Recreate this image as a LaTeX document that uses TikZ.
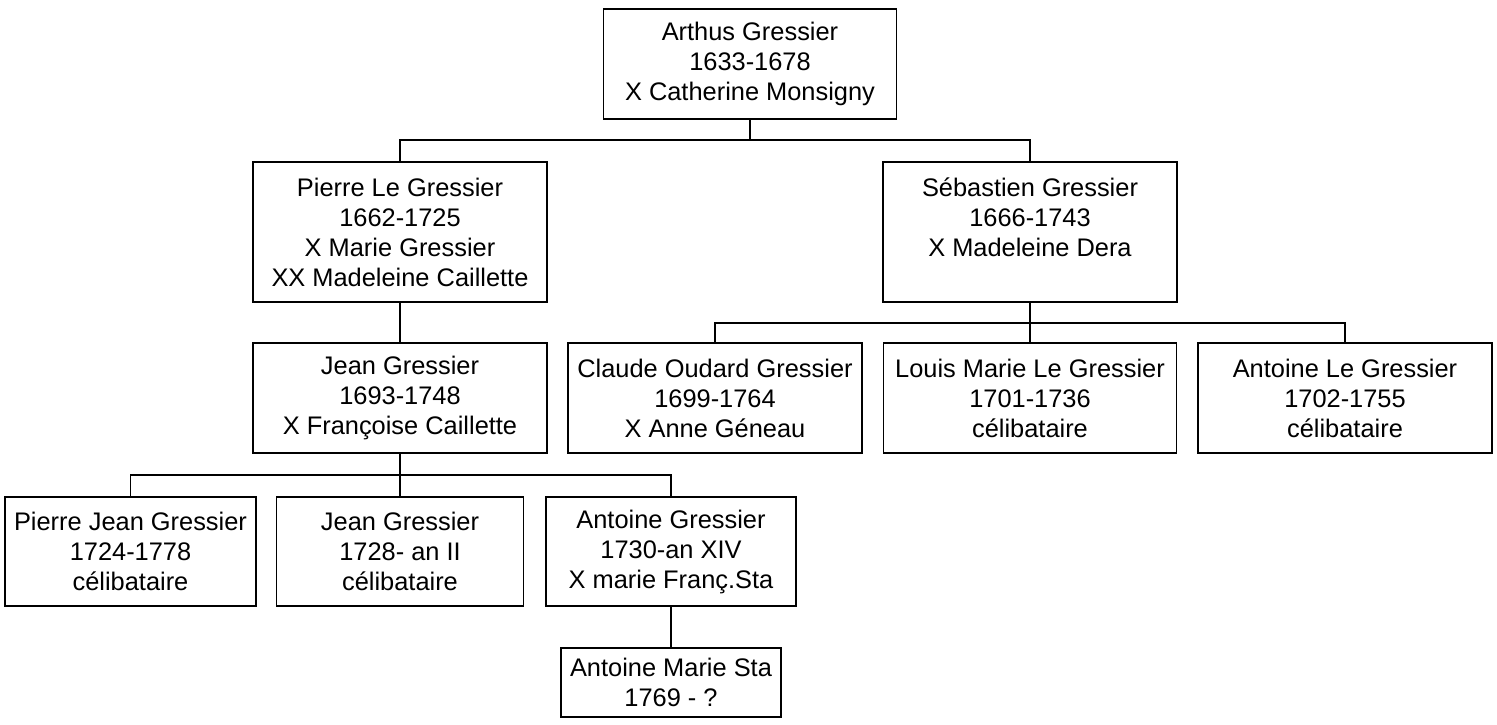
\documentclass[tikz,border=0pt]{standalone}
\usepackage{fontspec}
\setmainfont{Liberation Sans}
\begin{document}
\begin{tikzpicture}[x=1pt,y=-1pt,
  person/.style={draw=black, line width=1.9pt, rectangle, align=center, inner sep=0pt,
    font=\fontsize{25.4}{30}\selectfont},
  link/.style={draw=black, line width=1.9pt}]
\useasboundingbox (0,0) rectangle (1497,724);
% generation 1
\node[person, minimum width=293pt, minimum height=110pt] (arthus) at (750,64)
  {Arthus Gressier\\1633-1678\\X Catherine Monsigny};
% generation 2
\node[person, minimum width=294pt, minimum height=140pt] (pierre) at (400,232)
  {Pierre Le Gressier\\1662-1725\\X Marie Gressier\\XX Madeleine Caillette};
\node[person, minimum width=294pt, minimum height=140pt] (sebastien) at (1030,232)
  {Sébastien Gressier\\1666-1743\\X Madeleine Dera\\\phantom{X}};
% generation 3
\node[person, minimum width=294pt, minimum height=110pt] (jean) at (400,398)
  {Jean Gressier\\1693-1748\\X Françoise Caillette};
\node[person, minimum width=294pt, minimum height=110pt] (claude) at (715,398)
  {Claude Oudard Gressier\\1699-1764\\X Anne Géneau};
\node[person, minimum width=293pt, minimum height=110pt] (louis) at (1030,398)
  {Louis Marie Le Gressier\\1701-1736\\célibataire};
\node[person, minimum width=294pt, minimum height=110pt] (antoinelg) at (1345,398)
  {Antoine Le Gressier\\1702-1755\\célibataire};
% generation 4
\node[person, minimum width=251pt, minimum height=109pt] (pierrejean) at (130.5,551.5)
  {Pierre Jean Gressier\\1724-1778\\célibataire};
\node[person, minimum width=247pt, minimum height=109pt] (jeang) at (400,551.5)
  {Jean Gressier\\1728- an II\\célibataire};
\node[person, minimum width=250pt, minimum height=109pt] (antoineg) at (671,551.5)
  {Antoine Gressier\\1730-an XIV\\X marie Franç.Sta};
% generation 5
\node[person, minimum width=220pt, minimum height=69pt] (antoinemarie) at (671,682.5)
  {Antoine Marie Sta\\1769 - ?};
% buses
\coordinate (bus1) at (750,140);
\coordinate (bus2) at (1030,323);
\coordinate (bus3) at (400,475);
% connectors
\draw[link] (arthus.south) -- (bus1);
\draw[link] (pierre.north) |- (bus1) -| (sebastien.north);
\draw[link] (pierre.south) -- (jean.north);
\draw[link] (sebastien.south) -- (louis.north);
\draw[link] (claude.north) |- (bus2) -| (antoinelg.north);
\draw[link] (jean.south) -- (jeang.north);
\draw[link] (pierrejean.north) |- (bus3) -| (antoineg.north);
\draw[link] (antoineg.south) -- (antoinemarie.north);
\end{tikzpicture}
\end{document}
